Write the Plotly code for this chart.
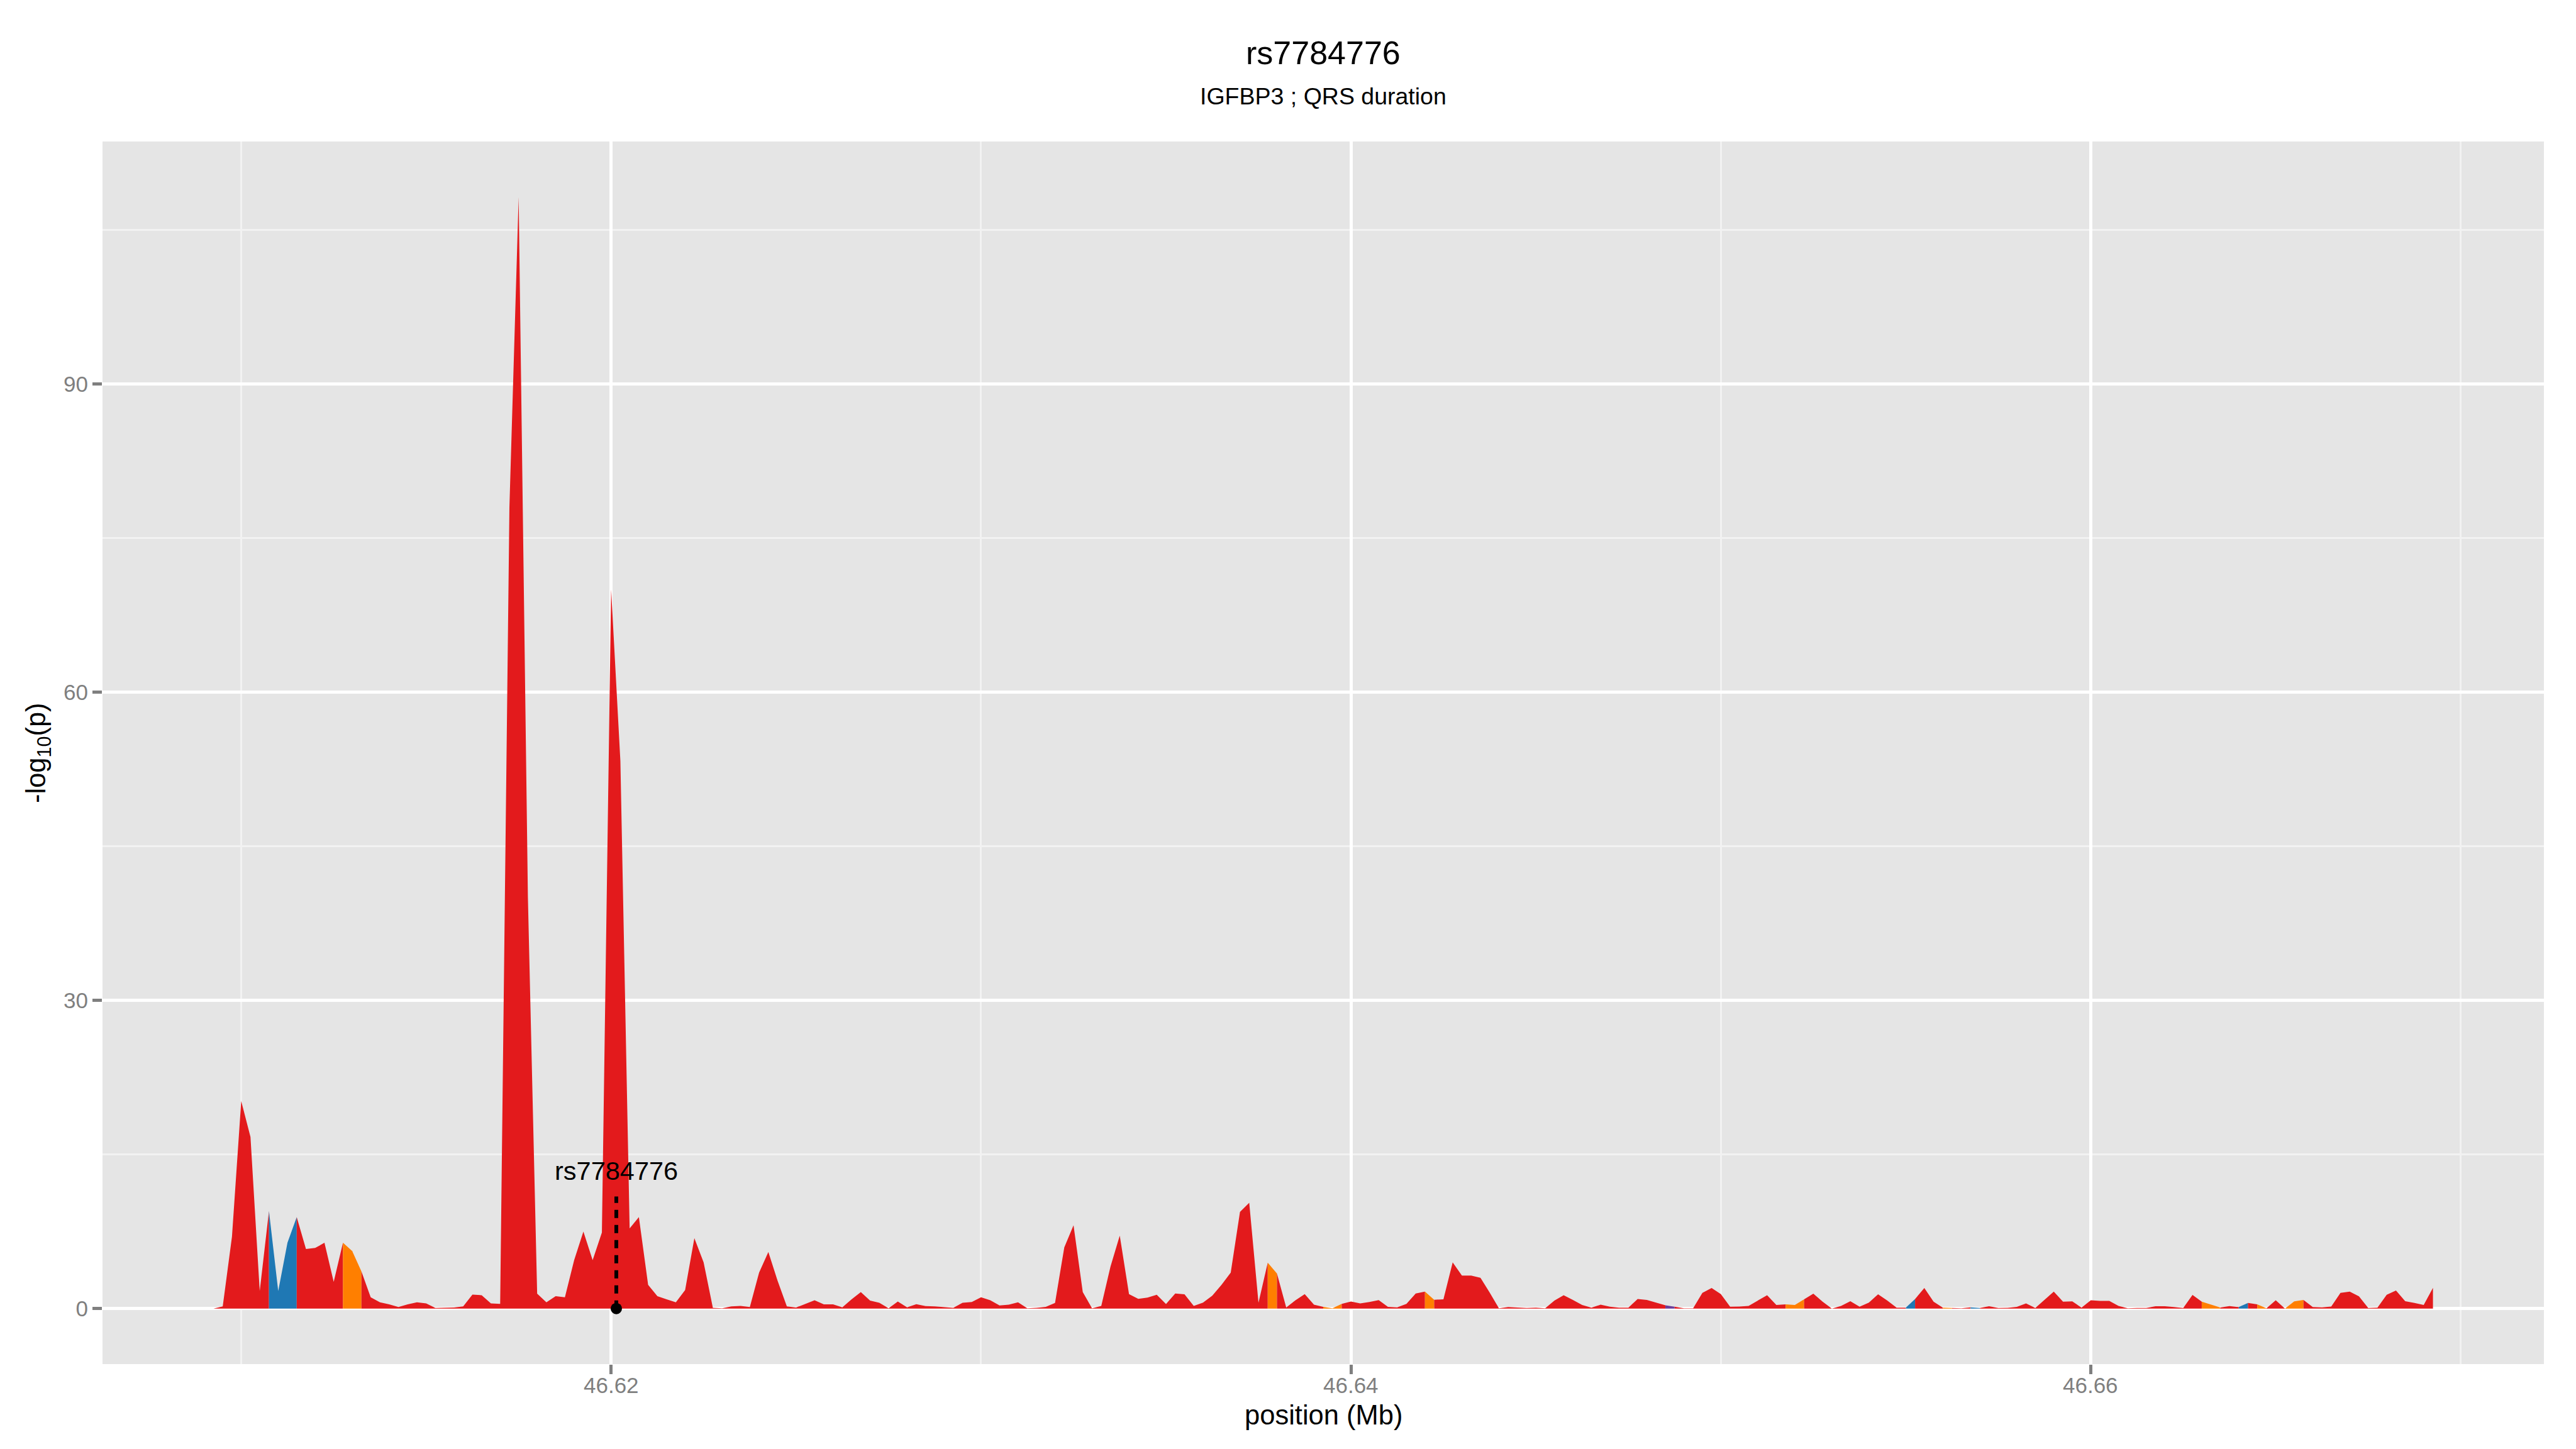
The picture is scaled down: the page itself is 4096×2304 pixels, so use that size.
import plotly.graph_objects as go

# ---------------- data ----------------
POS_BP = [
    46609250, 46609500, 46609750, 46610000, 46610250, 46610500, 46610750, 46611000,
    46611250, 46611500, 46611750, 46612000, 46612250, 46612500, 46612750, 46613000,
    46613250, 46613500, 46613750, 46614000, 46614250, 46614500, 46614750, 46615000,
    46615250, 46615500, 46615750, 46616000, 46616250, 46616500, 46616750, 46617000,
    46617250, 46617500, 46617750, 46618000, 46618250, 46618500, 46618750, 46619000,
    46619250, 46619500, 46619750, 46620000, 46620250, 46620500, 46620750, 46621000,
    46621250, 46621500, 46621750, 46622000, 46622250, 46622500, 46622750, 46623000,
    46623250, 46623500, 46623750, 46624000, 46624250, 46624500, 46624750, 46625000,
    46625250, 46625500, 46625750, 46626000, 46626250, 46626500, 46626750, 46627000,
    46627250, 46627500, 46627750, 46628000, 46628250, 46628500, 46628750, 46629000,
    46629250, 46629500, 46629750, 46630000, 46630250, 46630500, 46630750, 46631000,
    46631250, 46631500, 46631750, 46632000, 46632250, 46632500, 46632750, 46633000,
    46633250, 46633500, 46633750, 46634000, 46634250, 46634500, 46634750, 46635000,
    46635250, 46635500, 46635750, 46636000, 46636250, 46636500, 46636750, 46637000,
    46637250, 46637500, 46637750, 46638000, 46638250, 46638500, 46638750, 46639000,
    46639250, 46639500, 46639750, 46640000, 46640250, 46640500, 46640750, 46641000,
    46641250, 46641500, 46641750, 46642000, 46642250, 46642500, 46642750, 46643000,
    46643250, 46643500, 46643750, 46644000, 46644250, 46644500, 46644750, 46645000,
    46645250, 46645500, 46645750, 46646000, 46646250, 46646500, 46646750, 46647000,
    46647250, 46647500, 46647750, 46648000, 46648250, 46648500, 46648750, 46649000,
    46649250, 46649500, 46649750, 46650000, 46650250, 46650500, 46650750, 46651000,
    46651250, 46651500, 46651750, 46652000, 46652250, 46652500, 46652750, 46653000,
    46653250, 46653500, 46653750, 46654000, 46654250, 46654500, 46654750, 46655000,
    46655250, 46655500, 46655750, 46656000, 46656250, 46656500, 46656750, 46657000,
    46657250, 46657500, 46657750, 46658000, 46658250, 46658500, 46658750, 46659000,
    46659250, 46659500, 46659750, 46660000, 46660250, 46660500, 46660750, 46661000,
    46661250, 46661500, 46661750, 46662000, 46662250, 46662500, 46662750, 46663000,
    46663250, 46663500, 46663750, 46664000, 46664250, 46664500, 46664750, 46665000,
    46665250, 46665500, 46665750, 46666000, 46666250, 46666500, 46666750, 46667000,
    46667250, 46667500, 46667750, 46668000, 46668250, 46668500, 46668750, 46669000,
    46669250,
]

NEG_LOG10_P = [
    0.0, 0.2, 7.0, 20.2, 16.7, 1.7, 9.5, 1.7,
    6.4, 8.9, 5.8, 5.9, 6.4, 2.6, 6.4, 5.6,
    3.6, 1.1, 0.6, 0.4, 0.15, 0.4, 0.6, 0.5,
    0.05, 0.07, 0.1, 0.2, 1.35, 1.3, 0.5, 0.45,
    78.0, 108.2, 40.0, 1.45, 0.6, 1.2, 1.1, 4.7,
    7.5, 4.7, 7.4, 70.0, 53.3, 7.8, 8.9, 2.3,
    1.2, 0.9, 0.6, 1.8, 6.85, 4.5, 0.07, 0.02,
    0.2, 0.25, 0.15, 3.5, 5.5, 2.7, 0.2, 0.1,
    0.45, 0.8, 0.4, 0.4, 0.12, 0.9, 1.6, 0.77,
    0.56, 0.02, 0.68, 0.12, 0.42, 0.24, 0.2, 0.12,
    0.07, 0.56, 0.63, 1.1, 0.8, 0.3, 0.38, 0.6,
    0.03, 0.07, 0.16, 0.55, 5.95, 8.1, 1.6, 0.03,
    0.25, 4.1, 7.1, 1.4, 0.94, 1.06, 1.34, 0.43,
    1.46, 1.39, 0.25, 0.58, 1.25, 2.3, 3.5, 9.4,
    10.3, 0.56, 4.46, 3.4, 0.1, 0.8, 1.4, 0.37,
    0.16, 0.03, 0.45, 0.68, 0.5, 0.63, 0.82, 0.16,
    0.12, 0.45, 1.46, 1.64, 0.85, 0.9, 4.5, 3.2,
    3.2, 3.0, 1.55, 0.03, 0.15, 0.12, 0.06, 0.09,
    0.02, 0.78, 1.3, 0.84, 0.35, 0.09, 0.37, 0.17,
    0.09, 0.09, 0.92, 0.84, 0.57, 0.31, 0.17, 0.02,
    0.02, 1.53, 2.0, 1.4, 0.17, 0.19, 0.26, 0.78,
    1.3, 0.35, 0.4, 0.35, 0.89, 1.45, 0.66, 0.0,
    0.26, 0.71, 0.17, 0.57, 1.38, 0.78, 0.09, 0.09,
    0.92, 2.0, 0.66, 0.09, 0.05, 0.02, 0.12, 0.05,
    0.23, 0.05, 0.07, 0.16, 0.5, 0.05, 0.85, 1.65,
    0.66, 0.7, 0.09, 0.8, 0.75, 0.75, 0.26, 0.02,
    0.05, 0.05, 0.23, 0.23, 0.14, 0.05, 1.32, 0.66,
    0.4, 0.1, 0.24, 0.14, 0.54, 0.4, 0.02, 0.8,
    0.0, 0.7, 0.84, 0.14, 0.12, 0.19, 1.53, 1.65,
    1.18, 0.05, 0.09, 1.34, 1.76, 0.71, 0.54, 0.35,
    2.02,
]

# LD class of each SNP (colours the segment that starts at that SNP)
LD_CLASS = (
    "rrrrrrbbbr" "rrrroorrrr" "rrrrrrrrrr" "rrrrrrrrrr" "rrrrrrrrrr"
    "rrrrrrrrrr" "rrrrrrrrrr" "rrrrrrrrrr" "rrrrrrrrrr" "rrrrrrrrrr"
    "rrrrrrrrrr" "rrrrorrrrr" "oorrrrrrrr" "rorrrrrrrr" "rrrrrrrrrr"
    "rrrrrrrprr" "rrrrrrrrrr" "oorrrrrrrr" "rrrbrrrorr" "brrrrrrrrr"
    "rrrrrrrrrr" "rrrrroorrb" "rorroorrrr" "rrrrrrrrrr" "r"
)
CLASS_COLOR = {"r": "#E31A1C", "b": "#1F78B4", "o": "#FF7F00", "p": "#6A3D9A"}

SNP_NAME = "rs7784776"
SNP_POS_BP = 46620140
SNP_LABEL_Y = 13.4
SNP_SEGMENT_TOP = 10.9

TITLE = "rs7784776"
SUBTITLE = "IGFBP3 ; QRS duration"
X_TITLE = "position (Mb)"
Y_TITLE = "-log<sub>10</sub>(p)"

X_TICKS = [46.62, 46.64, 46.66]
X_TICK_TEXT = ["46.62", "46.64", "46.66"]
X_MINOR = [46.61, 46.63, 46.65, 46.67]
Y_TICKS = [0, 30, 60, 90]
Y_TICK_TEXT = ["0", "30", "60", "90"]
Y_MINOR = [15, 45, 75, 105]

assert len(POS_BP) == len(NEG_LOG10_P) == len(LD_CLASS)

# ---------------- layout constants ----------------
W, H = 4096, 2304
ML, MR, MT, MB = 163, 51, 225, 135
FONT = "Liberation Sans, Arial, Helvetica, sans-serif"
TICK_GREY = "#7F7F7F"
PLOT_H = H - MT - MB
PLOT_W = W - ML - MR


def paper_y(px_from_top):
    return (H - MB - px_from_top) / PLOT_H


def paper_x(px_from_left):
    return (px_from_left - ML) / PLOT_W


xs = [p / 1e6 for p in POS_BP]
ys = NEG_LOG10_P
n = len(xs)

fig = go.Figure()

# area split into runs of equal LD class (segment i->i+1 coloured by SNP i)
a = 0
for j in range(1, n):
    if j == n - 1 or LD_CLASS[j] != LD_CLASS[a]:
        col = CLASS_COLOR[LD_CLASS[a]]
        fig.add_trace(go.Scatter(
            x=xs[a:j + 1], y=ys[a:j + 1], mode="lines",
            line=dict(width=0, color=col), fill="tozeroy", fillcolor=col,
            hoverinfo="skip", showlegend=False,
        ))
        a = j

snp_x = SNP_POS_BP / 1e6
fig.add_trace(go.Scatter(
    x=[snp_x, snp_x], y=[0, SNP_SEGMENT_TOP], mode="lines",
    line=dict(color="black", width=6, dash="13px,11px"),
    hoverinfo="skip", showlegend=False,
))
fig.add_trace(go.Scatter(
    x=[snp_x], y=[0], mode="markers",
    marker=dict(color="black", size=18, line=dict(width=0)),
    hoverinfo="skip", showlegend=False,
))

x_lo = xs[0] - 0.05 * (xs[-1] - xs[0])
x_hi = xs[-1] + 0.05 * (xs[-1] - xs[0])
y_max = max(ys)
y_lo = -0.05 * y_max
y_hi = 1.05 * y_max

axis_common = dict(
    showline=False, zeroline=False, ticks="outside", ticklen=15, tickwidth=5,
    tickcolor=TICK_GREY, tickfont=dict(family=FONT, size=35, color=TICK_GREY),
    showgrid=True, gridcolor="#FFFFFF", gridwidth=5,
)

annotations = [
    dict(text=TITLE, x=0.5, y=paper_y(84), xref="paper", yref="paper",
         xanchor="center", yanchor="middle", showarrow=False,
         font=dict(family=FONT, size=52, color="black")),
    dict(text=SUBTITLE, x=0.5, y=paper_y(153), xref="paper", yref="paper",
         xanchor="center", yanchor="middle", showarrow=False,
         font=dict(family=FONT, size=37.5, color="black")),
    dict(text=X_TITLE, x=0.5, y=paper_y(2250), xref="paper", yref="paper",
         xanchor="center", yanchor="middle", showarrow=False,
         font=dict(family=FONT, size=43.5, color="black")),
    dict(text=Y_TITLE, x=paper_x(60), y=0.5, xref="paper", yref="paper",
         xanchor="center", yanchor="middle", showarrow=False, textangle=-90,
         font=dict(family=FONT, size=43.5, color="black")),
    dict(text=SNP_NAME, x=snp_x, y=SNP_LABEL_Y, xref="x", yref="y",
         xanchor="center", yanchor="middle", showarrow=False,
         font=dict(family=FONT, size=41.5, color="black")),
]
# x tick labels placed explicitly
for tv, tt in zip(X_TICKS, X_TICK_TEXT):
    annotations.append(dict(
        text=tt, x=tv, y=paper_y(2202), xref="x", yref="paper",
        xanchor="center", yanchor="middle", showarrow=False,
        font=dict(family=FONT, size=35, color=TICK_GREY)))

fig.update_layout(
    width=W, height=H,
    margin=dict(l=ML, r=MR, t=MT, b=MB, pad=0),
    paper_bgcolor="white", plot_bgcolor="#E5E5E5",
    font=dict(family=FONT, color="black"),
    showlegend=False,
    xaxis=dict(
        range=[x_lo, x_hi], tickmode="array", tickvals=X_TICKS, ticktext=X_TICK_TEXT,
        showticklabels=False,
        minor=dict(tickvals=X_MINOR, showgrid=True, gridcolor="#F2F2F2", gridwidth=2.8, ticks=""),
        **axis_common,
    ),
    yaxis=dict(
        range=[y_lo, y_hi], tickmode="array", tickvals=Y_TICKS, ticktext=Y_TICK_TEXT,
        minor=dict(tickvals=Y_MINOR, showgrid=True, gridcolor="#F2F2F2", gridwidth=2.8, ticks=""),
        **axis_common,
    ),
    annotations=annotations,
)

fig.write_html(
    "out.html",
    config={"displayModeBar": False},
    post_script="document.body.style.margin='0';document.body.style.overflow='hidden';",
)
